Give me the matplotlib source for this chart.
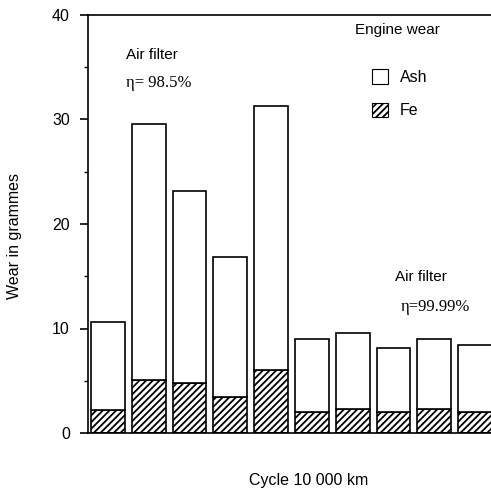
import matplotlib
matplotlib.use("Agg")
import matplotlib.pyplot as plt
from matplotlib.patches import Patch

# (grammes)
cycles = [1, 2, 3, 4, 5, 6, 7, 8, 9, 10]
fe = [2.2, 5.1, 4.8, 3.4, 6.0, 2.05, 2.3, 2.05, 2.3, 2.05]
ash = [8.45, 24.5, 18.4, 13.4, 25.3, 6.9, 7.3, 6.05, 6.65, 6.35]
yticks = [0, 10, 20, 30, 40]

plt.rcParams['font.family'] = ['Liberation Sans', 'DejaVu Sans']
plt.rcParams['hatch.linewidth'] = 1.3

def draw():
	fig = plt.figure(figsize=(4.91, 4.91), dpi=100)
	ax = fig.add_axes([88 / 491, 58 / 491, 1 - 88 / 491, 418 / 491])
	w = 0.83
	ax.bar(cycles, fe, width=w, color="white", edgecolor="black", linewidth=1.2, hatch="/////")
	ax.bar(cycles, ash, width=w, bottom=fe, color="white", edgecolor="black", linewidth=1.2)
	ax.set_xlim(0.51, 10.39)
	ax.set_ylim(0, 40)
	ax.set_yticks(yticks)
	ax.set_yticks([5, 15, 25, 35], minor=True)
	ax.set_xticks([])
	ax.spines["right"].set_visible(False)
	for s in ["left", "top", "bottom"]:
		ax.spines[s].set_linewidth(1.2)
	ax.tick_params(axis="y", which="major", length=6, width=1.2, pad=7, labelsize=11.5)
	ax.tick_params(axis="y", which="minor", length=3, width=1)

	serif = ["Liberation Serif", "DejaVu Serif"]
	fig.text(126 / 491, 1 - 55 / 491, "Air filter", fontsize=11, va="center")
	fig.text(126 / 491, 1 - 83 / 491, "η= 98.5%", fontsize=12, family=serif, va="center")
	fig.text(395 / 491, 1 - 277 / 491, "Air filter", fontsize=11, va="center")
	fig.text(401 / 491, 1 - 307 / 491, "η=99.99%", fontsize=12, family=serif, va="center")

	fig.text(355 / 491, 1 - 30 / 491, "Engine wear", fontsize=11, va="center")
	handles = [Patch(facecolor="white", edgecolor="black", linewidth=0.8, label="Ash"),
		Patch(facecolor="white", edgecolor="black", linewidth=0.8, hatch="/////", label="Fe")]
	fig.legend(handles=handles, loc="upper left", bbox_to_anchor=(358 / 491, 1 - 55 / 491),
		frameon=False, fontsize=11.5, handlelength=1.0, handleheight=1.0,
		handletextpad=0.7, labelspacing=1.1)

	fig.text(15 / 491, 1 - 236 / 491, "Wear in grammes", rotation=90, fontsize=11.5,
		ha="center", va="center")
	fig.text(309 / 491, 1 - 480 / 491, "Cycle 10 000 km", fontsize=11.5, ha="center", va="center")
	fig.savefig("out.png", dpi=100)

draw()
